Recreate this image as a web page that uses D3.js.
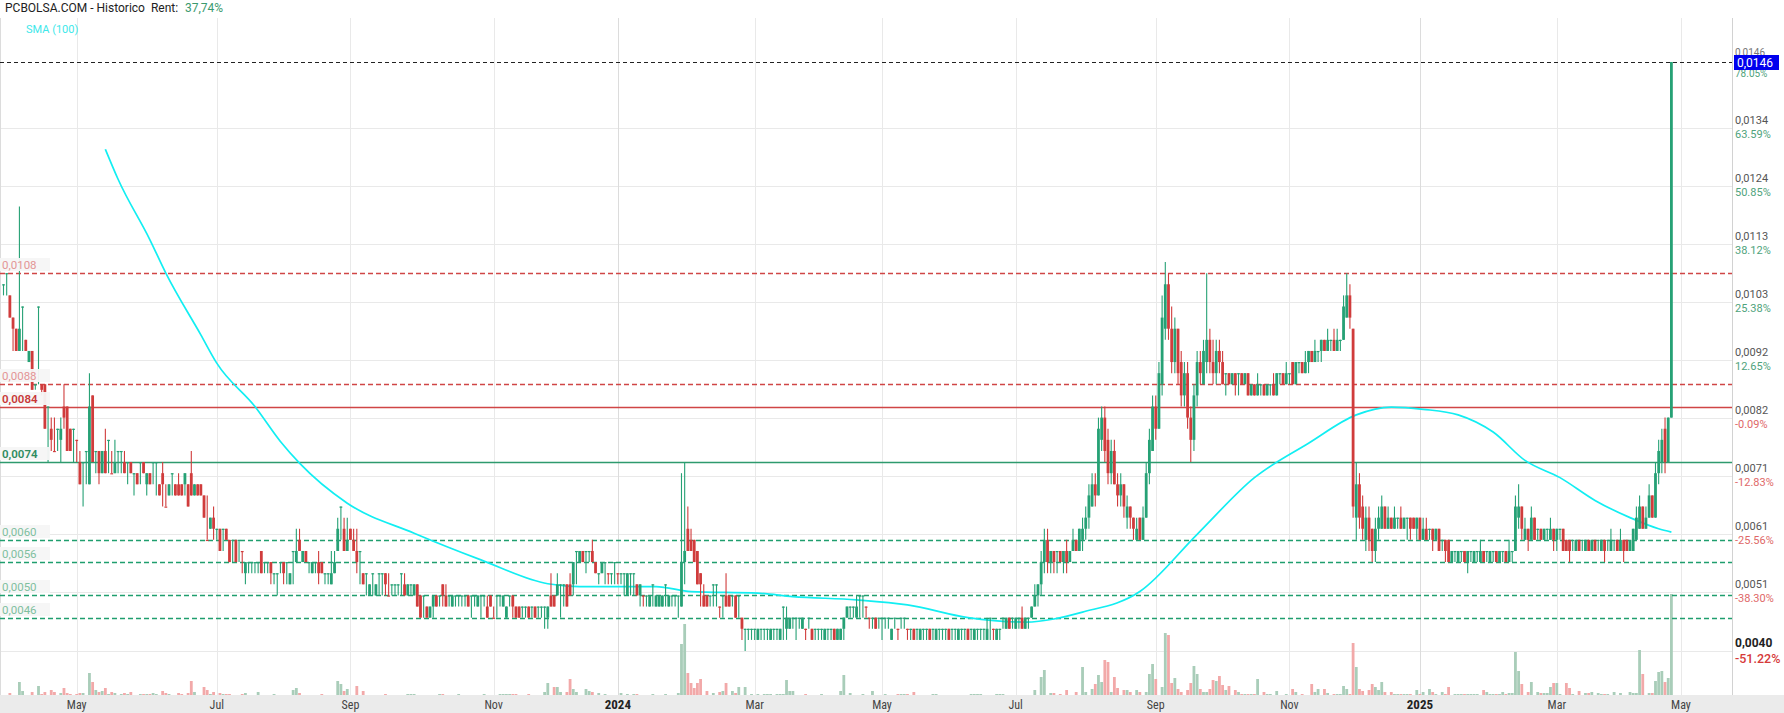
<!DOCTYPE html>
<meta charset="utf-8">
<title>PCBOLSA - Historico</title>
<style>
  body { margin: 0; background: #fff; }
  svg text { font-family: Roboto, "Liberation Sans", sans-serif; }
  .month { font-family: "Liberation Sans Narrow", "Roboto Condensed", Roboto, sans-serif; }
  .pre { white-space: pre; }
</style>
<body>
<svg width="1784" height="713"></svg>
<script src="https://d3js.org/d3.v7.min.js"></script>
<script>
// prices in 0.0001 units (pips), one value per trading day
const open = [
  106,108,104,100,98,94,102,96,92,94, 88,102,88,88,84,80,76,80,78,84,
  84,80,80,78,74,74,76,70,86,76, 76,72,76,78,72,72,76,76,74,74,
  74,72,72,74,74,70,72,74,74,70, 72,66,68,72,70,70,70,70,70,72,
  68,70,70,68,60,62,64,62,62,62, 62,60,60,60,60,58,54,56,56,56,
  56,58,56,56,56,54,54,56,56,56, 52,58,56,60,56,58,56,54,56,56,
  56,54,54,52,54,58,66,62,58,62, 60,58,58,54,54,50,54,50,54,54,
  54,50,52,52,52,54,52,50,52,50, 52,50,50,48,46,48,50,50,52,50,
  50,48,50,50,50,50,50,50,50,48, 50,50,48,50,46,50,50,48,46,50,
  50,48,48,48,48,48,48,48,48,48, 48,46,50,50,50,52,52,52,52,52,
  58,56,58,58,58,58,56,54,54,56, 54,54,56,54,54,54,50,54,54,52,
  50,50,50,48,52,48,48,48,52,48, 50,50,50,48,56,62,60,60,58,54,
  50,50,50,52,52,48,50,50,50,50, 50,50,46,44,44,44,44,42,44,44,
  44,42,44,44,42,48,44,44,46,46, 46,44,44,46,44,44,44,44,42,44,
  44,44,42,42,44,46,48,48,46,50, 50,48,46,46,46,46,46,46,46,42,
  46,44,46,46,44,44,44,44,42,44, 44,44,44,42,44,44,44,44,44,44,
  42,44,44,44,44,42,44,44,44,42, 46,44,42,44,46,44,46,46,44,46,
  46,44,46,46,48,50,52,56,60,56, 58,58,58,56,58,56,58,60,58,60,
  62,64,66,70,68,78,82,78,72,76, 70,68,70,64,66,64,60,64,60,64,
  72,76,84,80,88,98,106,98,92,98, 92,86,90,82,78,86,92,88,92,96,
  92,90,94,92,90,90,88,90,90,90, 88,90,86,88,86,88,88,86,88,88,
  86,90,90,88,90,92,88,92,92,90, 92,94,92,94,94,96,94,96,96,94,
  96,96,100,104,98,64,70,66,60,64, 62,58,62,62,66,62,64,62,64,64,
  62,64,64,64,62,64,60,62,62,62, 60,62,60,60,60,56,58,56,58,58,
  56,58,56,58,56,58,58,56,58,58, 56,58,58,56,58,58,64,66,60,62,
  60,64,62,62,60,62,60,62,60,62, 62,60,60,60,58,60,60,58,60,58,
  60,60,58,60,60,58,60,60,58,60, 60,58,58,60,62,66,62,64,68,64,
  72,74,80,74,82
];
const high = [
  106,108,104,100,98,120,102,96,94,94, 88,102,88,88,84,82,82,80,82,88,
  84,80,80,78,76,74,76,90,86,76, 76,76,80,78,76,78,76,76,76,74,
  74,72,72,74,74,72,72,74,74,70, 74,70,70,72,70,72,70,72,70,76,
  70,70,70,68,68,64,66,62,62,62, 62,60,60,60,60,58,56,56,56,56,
  56,58,56,56,56,54,54,56,56,56, 54,58,62,62,58,58,56,56,56,58,
  56,54,54,58,58,64,66,64,64,62, 62,62,58,54,54,52,54,52,54,54,
  54,54,52,52,52,54,54,52,52,52, 52,50,50,48,48,50,50,50,52,52,
  50,50,50,50,50,50,50,50,50,50, 50,50,50,50,48,50,50,50,48,50,
  50,48,48,48,48,48,48,48,48,48, 48,48,54,50,54,52,52,52,54,56,
  58,58,58,58,58,60,56,54,56,56, 54,54,56,54,54,54,54,54,54,52,
  52,50,50,50,52,50,50,50,52,50, 50,50,50,72,74,66,62,60,58,54,
  52,50,50,52,52,48,50,54,50,50, 50,50,46,44,44,44,44,44,44,44,
  44,44,44,44,44,48,48,46,46,46, 46,46,44,46,44,44,44,44,44,44,
  44,44,44,44,46,48,48,48,50,50, 50,48,46,46,46,46,46,46,46,44,
  46,44,46,46,44,44,44,44,44,44, 44,44,44,44,44,44,44,44,44,44,
  44,44,44,44,44,44,44,44,44,46, 46,44,44,44,46,46,46,46,46,46,
  48,46,46,48,52,52,58,62,62,58, 58,58,58,58,60,58,62,60,62,64,
  66,70,72,72,82,84,84,80,78,78, 72,72,70,68,66,64,64,64,66,74,
  80,86,86,92,104,110,108,102,100,98, 94,92,92,84,88,94,94,96,108,98,
  96,96,96,94,90,90,90,90,90,90, 90,90,88,88,90,88,88,88,88,90,
  90,90,90,92,90,92,92,92,92,94, 94,94,96,94,96,96,98,96,98,98,
  96,104,108,106,98,74,72,68,66,66, 62,64,66,68,66,66,64,66,64,66,
  64,64,64,64,64,64,64,64,62,62, 62,62,60,60,60,58,58,58,58,58,
  58,58,58,58,60,58,58,58,58,58, 58,58,58,60,58,68,70,66,64,62,
  66,64,62,62,62,62,64,62,62,62, 62,60,60,60,60,60,60,60,60,60,
  60,60,60,60,60,62,60,60,62,60, 60,60,62,66,68,66,66,70,68,74,
  78,80,82,82,146
];
const low = [
  104,104,100,94,94,94,94,94,92,87, 87,88,86,80,74,76,76,76,74,80,
  76,76,74,74,70,66,70,70,74,72, 70,72,72,72,72,72,72,72,72,70,
  72,68,70,70,72,68,70,70,68,68, 66,66,68,68,68,68,68,68,66,68,
  68,68,68,64,60,62,60,60,58,58, 60,56,56,56,56,54,52,54,54,54,
  54,54,54,54,52,52,50,54,52,52, 52,52,56,58,56,56,54,54,54,52,
  54,52,52,52,54,58,60,58,58,60, 58,54,52,52,50,50,50,50,50,50,
  50,50,50,50,50,50,50,50,50,50, 48,46,46,46,46,46,48,48,48,48,
  48,48,48,48,48,48,48,46,48,48, 46,48,46,48,46,46,48,48,46,48,
  46,46,46,46,46,46,46,46,46,46, 44,44,48,48,50,46,48,48,50,50,
  52,56,56,54,56,56,54,52,54,52, 52,52,52,52,52,50,50,50,50,50,
  48,48,48,48,48,48,48,48,48,48, 48,48,46,48,52,58,58,56,52,48,
  48,48,48,48,48,46,46,48,48,48, 46,46,42,40,42,42,42,42,42,42,
  42,42,42,42,42,42,42,44,44,42, 44,44,42,44,42,42,42,42,42,42,
  42,42,42,42,42,46,46,46,46,46, 46,46,44,44,44,44,42,44,44,42,
  44,42,44,44,42,42,42,42,42,42, 42,42,42,42,42,42,42,42,42,42,
  42,42,42,42,42,42,42,42,42,42, 42,42,42,42,44,44,44,44,44,44,
  44,44,44,46,48,48,50,54,54,54, 54,54,56,54,54,56,58,58,58,58,
  60,62,66,66,68,76,74,70,70,70, 66,66,64,62,62,60,60,60,60,64,
  70,76,78,80,86,96,96,90,90,88, 84,84,80,74,76,84,88,88,90,90,
  88,88,90,88,86,88,88,86,86,88, 88,86,86,86,86,86,86,86,86,86,
  86,88,88,88,88,88,88,90,90,90, 90,92,92,92,92,94,94,94,94,94,
  94,96,100,98,64,60,62,60,58,58, 56,56,60,62,62,62,62,62,62,62,
  62,60,60,62,60,60,60,60,60,58, 60,58,58,56,56,56,56,56,56,56,
  54,56,56,56,56,56,56,56,56,56, 56,56,56,56,56,58,62,60,60,58,
  60,60,60,60,60,60,60,58,58,60, 58,58,56,58,58,58,58,58,58,58,
  58,58,58,56,58,58,58,58,58,56, 58,58,58,60,62,62,62,64,64,64,
  70,72,72,74,82
];
const close = [
  106,108,100,98,94,98,102,94,94,87, 88,102,87,80,84,78,76,80,80,82,
  76,76,80,78,70,74,76,84,74,76, 72,76,72,78,72,74,76,76,72,74,
  72,72,70,74,72,72,70,74,74,68, 70,66,70,72,68,68,68,72,66,68,
  70,68,68,64,60,64,62,62,58,62, 60,56,60,56,60,58,56,56,56,56,
  56,54,56,56,54,54,54,56,54,56, 54,58,58,58,58,56,56,56,56,54,
  54,54,54,54,56,62,66,58,60,60, 58,56,58,52,54,52,54,52,54,54,
  52,50,52,52,52,54,50,52,52,52, 48,46,50,46,48,50,48,50,50,48,
  50,50,50,50,50,50,48,50,50,50, 50,50,46,48,46,50,50,50,48,50,
  48,46,46,48,48,46,48,46,48,48, 48,48,48,48,52,52,52,48,50,56,
  58,58,56,58,58,56,54,54,56,56, 54,54,56,54,54,54,54,54,54,50,
  52,50,50,50,52,50,50,50,52,50, 50,50,50,56,58,58,58,56,52,52,
  48,48,50,52,52,48,50,48,48,50, 46,50,44,44,44,44,44,44,44,44,
  44,44,44,44,44,48,46,46,46,46, 46,46,44,46,42,44,44,44,44,44,
  44,42,44,44,46,48,48,48,48,50, 50,48,46,46,44,46,46,46,46,44,
  46,44,46,46,44,44,42,44,44,44, 44,42,44,44,44,44,44,42,44,44,
  44,44,44,42,44,44,44,44,44,44, 46,44,44,44,46,46,44,46,46,46,
  44,46,46,48,50,52,56,60,56,58, 56,58,56,58,56,58,60,58,62,62,
  64,68,70,68,80,82,76,72,76,70, 68,70,66,66,64,62,62,60,64,72,
  78,84,80,90,100,106,98,92,98,90, 86,90,82,78,86,92,90,94,96,92,
  90,94,92,88,90,88,90,88,90,88, 90,86,88,86,88,88,86,88,88,86,
  90,90,88,90,90,88,92,92,90,92, 94,92,94,94,96,94,96,96,94,96,
  96,102,104,100,66,70,64,62,64,60, 58,62,64,66,62,64,62,64,64,62,
  64,64,62,62,64,60,62,60,62,60, 62,58,60,58,56,58,58,58,58,56,
  58,58,58,58,58,56,58,58,58,56, 58,58,56,58,58,66,66,62,62,60,
  64,60,62,60,62,62,62,60,62,62, 58,58,58,60,60,58,60,60,58,60,
  58,60,60,58,60,60,60,58,60,58, 58,60,62,64,66,62,64,68,64,72,
  76,78,74,82,146
];
const volume = [
  0,0,2,0,0,13,4,0,0,3, 0,9,1,3,0,5,3,0,2,7,
  2,1,0,1,2,2,0,22,13,5, 3,4,7,1,3,2,0,1,2,1,
  3,0,0,1,1,1,1,2,1,0, 4,2,1,0,0,2,1,0,2,14,
  3,0,0,8,5,1,3,0,2,1, 1,1,0,0,0,1,2,0,0,0,
  3,0,0,0,0,1,0,0,0,0, 0,5,7,2,0,0,0,0,0,0,
  1,0,0,0,0,14,11,4,6,0, 0,9,0,4,0,0,0,0,0,0,
  1,0,0,0,0,0,0,1,1,1, 0,0,0,0,0,0,0,1,1,0,
  0,0,0,1,0,0,0,0,0,0, 0,1,0,0,0,0,1,1,1,1,
  1,1,0,0,0,1,0,0,0,0, 3,12,0,8,8,3,0,3,16,6,
  3,0,0,6,4,3,0,2,0,1, 0,0,0,0,2,0,1,0,1,1,
  0,0,0,0,1,0,0,0,1,0, 0,0,2,51,71,22,12,7,12,16,
  0,4,0,2,0,3,4,12,0,4, 2,8,0,8,0,1,0,1,0,1,
  1,1,0,1,1,1,15,4,4,0, 0,0,1,0,0,0,0,1,0,0,
  0,0,0,4,20,0,2,0,0,0, 1,0,0,4,0,0,0,1,0,0,
  0,1,1,1,1,0,3,0,0,0, 0,0,1,1,0,0,0,0,0,0,
  0,0,0,0,1,1,1,1,0,0, 0,0,1,1,1,0,0,0,0,0,
  0,0,0,0,5,0,18,25,0,2, 2,0,1,0,5,0,0,3,0,28,
  3,0,6,11,20,13,35,33,3,18, 7,0,5,5,3,0,5,3,0,3,
  21,31,16,0,8,62,60,12,17,6, 3,0,5,12,29,21,6,3,3,6,
  15,14,19,10,5,9,0,5,3,1, 1,1,1,1,16,0,3,1,1,0,
  4,0,0,1,0,6,3,0,1,0, 0,11,3,6,0,6,2,0,1,1,
  1,9,6,1,52,28,6,4,0,5, 11,8,5,13,3,0,3,1,1,1,
  1,1,1,0,5,1,3,0,6,3, 1,0,3,1,8,0,1,1,1,1,
  1,1,1,1,0,5,3,1,1,1, 1,3,1,2,2,43,24,11,0,3,
  13,0,3,2,2,2,8,12,12,1, 0,12,7,1,0,4,0,2,2,3,
  0,2,1,1,1,0,3,0,2,0, 0,3,2,2,45,21,0,2,2,14,
  23,24,13,17,101
];

// SMA(100): day index -> value (pips)
const smaDay = [32,36,46,51,62,67,79,87,93,108,129,150,171,181,205,216,237,248,268,284,303,321,339,357,375,393,410,425,436,446,457,468,478,489,500,511,520,524];
const smaVal = [130.3,124.9,114,108,96.9,91.8,84,77.7,73.8,66.6,61.2,56.4,52.1,51.6,51.6,50.7,50.4,49.8,49.2,48.3,46,45.2,47,50.7,61,71.2,77.4,82.5,83.9,83.5,82.5,79.4,74.3,71.2,67.1,64,62,61.4];

// month ticks (day index of first session) and labels
const monthDay = [23,67,109,154,193,236,276,318,362,404,445,488,527];
const monthLabel = ["May","Jul","Sep","Nov","2024","Mar","May","Jul","Sep","Nov","2025","Mar","May"];

// right axis: percent steps relative to base price
const basePrice = 82;
const tickPct = [-38.30,-25.56,-12.83,-0.09,12.65,25.38,38.12,50.85,63.59];
const minPrice = 40, minPct = -51.22;
const maxPrice = 146, maxPct = 78.05;

// support / resistance levels drawn with a label at the left
const levelPrice = [108, 88, 84, 74, 60, 56, 50, 46];
const levelKind  = ["res","res","resMain","supMain","sup","sup","sup","sup"];

const svg = d3.select("svg");
const plotRight = 1732, plotTop = 18, plotBottom = 695;

const x = d3.scaleLinear().domain([0, 524]).range([3.5, 1671.4]);
const y = d3.scaleLinear().domain([40, 146]).range([651, 62]);
const yVol = d3.scaleLinear().domain([0, 101]).range([plotBottom, 594]);

const fmtPrice = p => (p / 10000).toFixed(4).replace(".", ",");

const up = "#26a175", down = "#d03c3c";
const candles = open.map((o, i) => {
  const c = close[i];
  const prev = i > 0 ? close[i - 1] : c;
  return {i, o, h: high[i], l: low[i], c, v: volume[i], up: c > o || (c === o && c >= prev)};
});

// grid
const grid = svg.append("g");
const tickPrices = tickPct.map(p => basePrice * (1 + p / 100));
grid.selectAll("line.h").data(tickPrices.concat([minPrice])).join("line")
  .attr("x1", 0).attr("x2", plotRight)
  .attr("y1", d => Math.round(y(d)) + 0.5).attr("y2", d => Math.round(y(d)) + 0.5)
  .attr("stroke", "#e9e9e9");
grid.selectAll("line.v").data(monthDay).join("line")
  .attr("x1", d => Math.round(x(d)) + 0.5).attr("x2", d => Math.round(x(d)) + 0.5)
  .attr("y1", plotTop).attr("y2", plotBottom)
  .attr("stroke", (d, i) => monthLabel[i].length === 4 ? "#dcdcdc" : "#e9e9e9");
grid.append("line").attr("x1", 0.5).attr("x2", 0.5).attr("y1", plotTop).attr("y2", plotBottom).attr("stroke", "#dcdcdc");

// volume
svg.append("g").selectAll("rect").data(candles.filter(d => d.v > 0)).join("rect")
  .attr("x", d => x(d.i) - 1.4).attr("width", 2.8)
  .attr("y", d => yVol(d.v)).attr("height", d => plotBottom - yVol(d.v))
  .attr("fill", d => d.up ? "#a9cdb9" : "#f2a9a9");

// level lines
const levelStyle = {
  res:     {stroke: "#d04646", dash: "5,3", text: "#e39595"},
  resMain: {stroke: "#d04646", dash: null,  text: "#c83838"},
  supMain: {stroke: "#2e9a6e", dash: null,  text: "#2e8b60"},
  sup:     {stroke: "#1f9e6e", dash: "5,3", text: "#7fbf9f"}
};
svg.append("g").selectAll("line").data(levelPrice).join("line")
  .attr("x1", 0).attr("x2", plotRight)
  .attr("y1", d => Math.round(y(d)) + 0.5).attr("y2", d => Math.round(y(d)) + 0.5)
  .attr("stroke", (d, i) => levelStyle[levelKind[i]].stroke)
  .attr("stroke-width", 1.3)
  .attr("stroke-dasharray", (d, i) => levelStyle[levelKind[i]].dash);

// max price dashed line
svg.append("line").attr("x1", 0).attr("x2", plotRight)
  .attr("y1", Math.round(y(maxPrice)) + 0.5).attr("y2", Math.round(y(maxPrice)) + 0.5)
  .attr("stroke", "#222").attr("stroke-dasharray", "4,3");

// SMA
svg.append("path")
  .datum(smaDay.map((d, i) => [d, smaVal[i]]))
  .attr("fill", "none").attr("stroke", "#12eef2").attr("stroke-width", 1.7)
  .attr("d", d3.line().x(d => x(d[0])).y(d => y(d[1])).curve(d3.curveMonotoneX));

// candles
const cg = svg.append("g");
cg.selectAll("line").data(candles).join("line")
  .attr("x1", d => x(d.i)).attr("x2", d => x(d.i))
  .attr("y1", d => y(d.h)).attr("y2", d => y(d.l))
  .attr("stroke", d => d.up ? up : down).attr("stroke-width", 1.1);
cg.selectAll("rect").data(candles).join("rect")
  .attr("x", d => x(d.i) - 1.4).attr("width", 2.8)
  .attr("y", d => y(Math.max(d.o, d.c)))
  .attr("height", d => Math.max(1.2, Math.abs(y(d.o) - y(d.c))))
  .attr("fill", d => d.up ? up : down);

// level labels
const lab = svg.append("g").selectAll("g").data(levelPrice).join("g")
  .attr("transform", d => `translate(0,${Math.round(y(d))})`);
lab.append("rect").attr("x", 0).attr("y", -15).attr("width", 50).attr("height", 13)
  .attr("fill", "#f6f6f6").attr("fill-opacity", 0.95);
lab.append("text").attr("x", 2).attr("y", -4).attr("font-size", 11.5)
  .attr("font-weight", (d, i) => levelKind[i].endsWith("Main") ? 600 : 400)
  .attr("fill", (d, i) => levelStyle[levelKind[i]].text)
  .text(d => fmtPrice(d));

// right axis
svg.append("line").attr("x1", plotRight + 0.5).attr("x2", plotRight + 0.5)
  .attr("y1", plotTop).attr("y2", plotBottom).attr("stroke", "#d2d2d2");
const ax = svg.append("g").selectAll("g").data(tickPct).join("g")
  .attr("transform", p => `translate(1735,${Math.round(y(basePrice * (1 + p / 100)))})`);
ax.append("text").attr("y", -4).attr("font-size", 11).attr("fill", "#555")
  .text(p => fmtPrice(basePrice * (1 + p / 100)));
ax.append("text").attr("y", 10).attr("font-size", 11)
  .attr("fill", p => p >= 0 ? "#4fa37c" : "#e06868")
  .text(p => p.toFixed(2) + "%");

// min label
const minG = svg.append("g").attr("transform", `translate(1735,${Math.round(y(minPrice))})`);
minG.append("text").attr("y", -4).attr("font-size", 12).attr("font-weight", 700).attr("fill", "#222").text(fmtPrice(minPrice));
minG.append("text").attr("y", 12).attr("font-size", 12.5).attr("font-weight", 500).attr("fill", "#d63a3a").text(minPct.toFixed(2) + "%");

// max label: the plain tick text sits under the highlighted box, as in the source
const maxG = svg.append("g").attr("transform", `translate(1735,${Math.round(y(maxPrice))})`);
maxG.append("text").attr("y", -6).attr("font-size", 10).attr("fill", "#777").text(fmtPrice(maxPrice));
maxG.append("text").attr("y", 15).attr("font-size", 10).attr("fill", "#4fa37c").text(maxPct.toFixed(2) + "%");
maxG.append("rect").attr("x", -1).attr("y", -7).attr("width", 45).attr("height", 15).attr("fill", "#0000ee");
maxG.append("text").attr("x", 2).attr("y", 4.5).attr("font-size", 12).attr("fill", "#fff").text(fmtPrice(maxPrice));

// x axis band
svg.append("rect").attr("x", 0).attr("y", plotBottom).attr("width", 1784).attr("height", 713 - plotBottom).attr("fill", "#ebebeb");
svg.append("g").selectAll("text").data(monthDay).join("text")
  .attr("class", "month")
  .attr("x", d => x(d)).attr("y", 709).attr("text-anchor", "middle")
  .attr("font-size", (d, i) => monthLabel[i].length === 4 ? 13 : 12)
  .attr("font-weight", (d, i) => monthLabel[i].length === 4 ? 700 : 400)
  .attr("fill", (d, i) => monthLabel[i].length === 4 ? "#222" : "#444")
  .text((d, i) => monthLabel[i]);

// header
svg.append("text").attr("class", "pre").attr("x", 5).attr("y", 12).attr("font-size", 12).attr("fill", "#222")
  .text("PCBOLSA.COM - Historico  Rent:");
svg.append("text").attr("x", 185).attr("y", 12).attr("font-size", 12).attr("fill", "#3a9a6e").text("37,74%");
svg.append("text").attr("x", 26).attr("y", 33).attr("font-size", 11).attr("fill", "#3ee8ea").text("SMA (100)");
</script>
</body>
